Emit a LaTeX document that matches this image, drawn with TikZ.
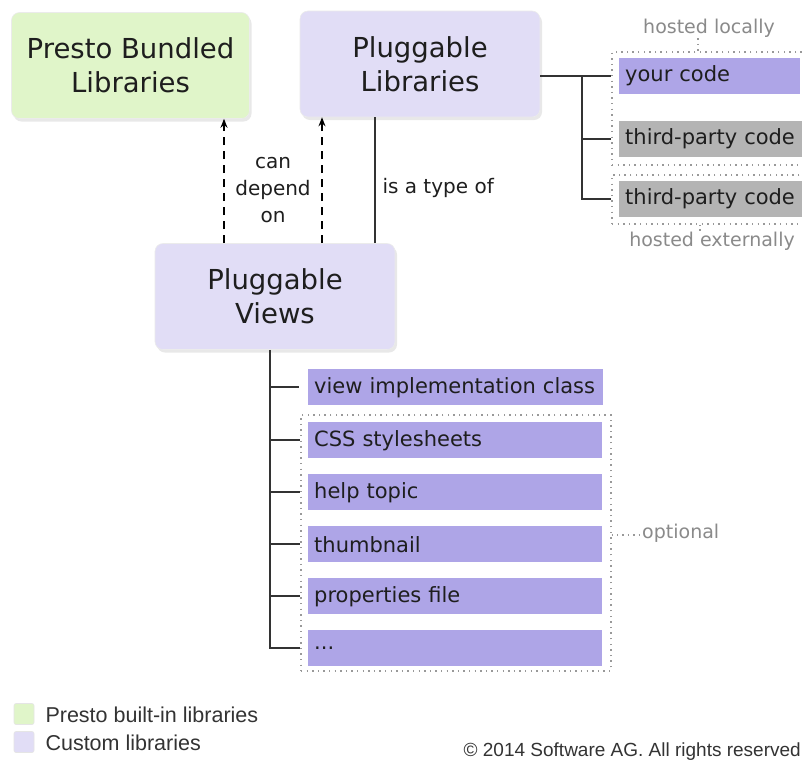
\documentclass[tikz,border=0pt]{standalone}
\usepackage{fontspec}
\setmainfont{DejaVu Sans}
\newfontfamily\legfont{Liberation Sans}
\usetikzlibrary{shadows,arrows.meta,fit}
\definecolor{cgreen}{HTML}{E0F5C9}
\definecolor{clav}{HTML}{E1DDF6}
\definecolor{cmed}{HTML}{AEA5E7}
\definecolor{cgray}{HTML}{B4B4B4}
\definecolor{ctext}{HTML}{1E1E1E}
\definecolor{clabel}{HTML}{8A8A8A}
\definecolor{cline}{HTML}{333333}
\tikzset{
  big/.style={rounded corners=8pt, minimum width=238pt, minimum height=106pt, align=center,
    font=\fontsize{27.5}{34}\selectfont, text=ctext, draw=black!8, line width=0.6pt,
    drop shadow={opacity=0.18, shadow xshift=2pt, shadow yshift=-3pt}},
  item/.style={anchor=north west, minimum height=36pt, inner xsep=6pt, inner ysep=0pt,
    font=\fontsize{21}{25}\selectfont, text=ctext, align=left, fill=cmed},
  dotbox/.style={draw=black!40, line width=1.3pt, dash pattern=on 1.4pt off 4.2pt, inner sep=0pt},
  tree/.style={draw=cline, line width=2pt},
  dep/.style={draw=black, line width=1.6pt, dash pattern=on 8pt off 6pt, -{Stealth[length=9pt,width=7pt]}},
  glabel/.style={text=clabel, font=\fontsize{19}{23}\selectfont, inner sep=1pt},
  leader/.style={draw=black!40, line width=1.2pt, dash pattern=on 1.4pt off 4pt},
  lbl/.style={text=ctext, font=\fontsize{20}{27}\selectfont, align=center},
  legbox/.style={rounded corners=2pt, minimum width=20pt, minimum height=21pt, draw=black!10, line width=0.6pt},
  legtext/.style={anchor=west, font=\legfont\fontsize{21.5}{24}\selectfont, text=black!80}
}
\begin{document}
\begin{tikzpicture}[x=1pt, y=-1pt]
\useasboundingbox[fill=white] (0,0) rectangle (802,761);

% main boxes
\node[big, fill=cgreen] (pbl) at (130.5,65.5) {Presto Bundled\\Libraries};
\node[big, fill=clav, minimum width=240pt] (pl) at (420,64) {Pluggable\\Libraries};
\node[big, fill=clav, minimum width=240pt] (pv) at (275,296.5) {Pluggable\\Views};

% dependencies
\draw[dep] (224,0 |- pv.north) -- (224,0 |- pbl.south);
\draw[dep] (322,0 |- pv.north) -- (322,0 |- pl.south);
\node[lbl] (cdo) at (273,190) {can\\depend\\on};
\draw[tree, line width=1.6pt] (375,0 |- pv.north) -- (375,0 |- pl.south);
\node[lbl, anchor=west] (typ) at (379,188) {is a type of};

% right side: hosting
\node[item, text width=169pt] (yc) at (619,58) {your code};
\node[item, text width=171pt, fill=cgray] (tp1) at (619,121) {third-party code};
\node[item, text width=171pt, fill=cgray] (tp2) at (619,181) {third-party code};
\node[dotbox, fit={(612,52) (810,165)}] (dl1) {};
\node[dotbox, fit={(612,175) (810,224)}] (dl2) {};
\node[glabel] (hl) at (709,28) {hosted locally};
\node[glabel] (he) at (712,241) {hosted externally};
\draw[leader] (698,0 |- hl.south) -- (698,0 |- dl1.north);
\draw[leader] (700,0 |- he.north) -- (700,0 |- dl2.south);

\coordinate (jr) at (582,75);
\draw[tree] (pl.east |- yc) -- (yc -| dl1.west);
\draw[tree] (jr |- yc) |- (tp2 -| dl2.west);
\draw[tree] (jr |- tp1) -- (tp1 -| dl1.west);

% lower tree
\node[item, text width=283pt] (vic) at (308,369) {view implementation class};
\node[item, text width=282pt] (css) at (308,422) {CSS stylesheets};
\node[item, text width=282pt] (help) at (308,474) {help topic};
\node[item, text width=282pt] (thumb) at (308,526) {thumbnail};
\node[item, text width=282pt] (props) at (308,578) {properties file};
\node[item, text width=282pt] (more) at (308,630) {...};
\node[dotbox, fit={(301,415) (611,671)}] (dlo) {};
\node[glabel, anchor=west] (opt) at (641,533) {optional};
\draw[leader] (dlo.east |- 535,535) -- (opt.west |- 535,535);

\coordinate (jl) at (270,0);
\draw[tree] (jl |- pv.south) -- (jl |- more) -- (more -| dlo.west);
\draw[tree] (jl |- vic) -- (299,0 |- vic);
\foreach \n in {css,help,thumb,props}
  \draw[tree] (jl |- \n) -- (\n -| dlo.west);

% legend
\node[legbox, fill=cgreen] (lg1) at (24,714) {};
\node[legbox, fill=clav] (lg2) at (24,742) {};
\node[legtext] (lt1) at (42,715) {Presto built-in libraries};
\node[legtext] (lt2) at (42,743) {Custom libraries};
\node[anchor=east, font=\legfont\fontsize{19}{22}\selectfont, text=black!80, inner sep=0pt] (copy) at (801,752) {© 2014 Software AG. All rights reserved};
\end{tikzpicture}
\end{document}
